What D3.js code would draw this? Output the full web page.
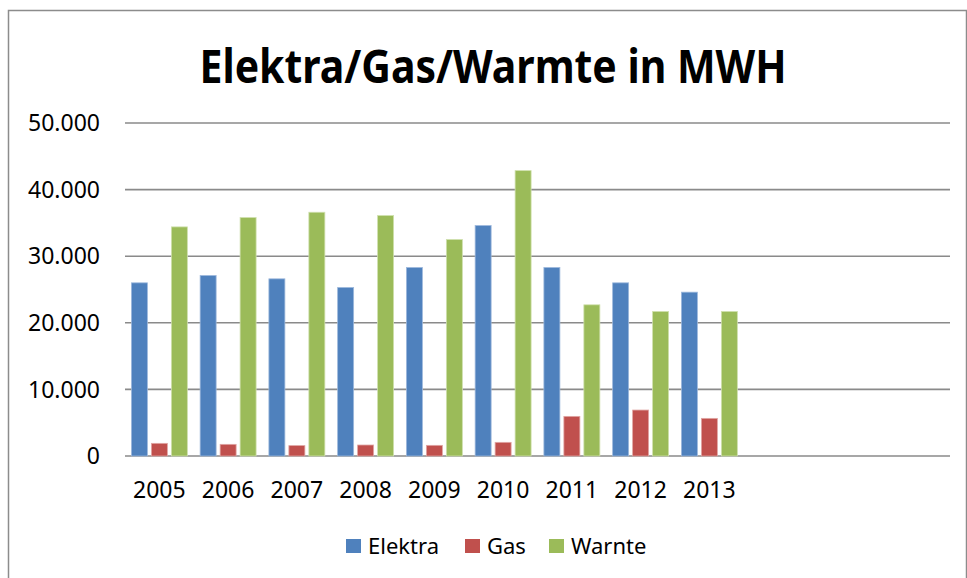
<!DOCTYPE html>
<html lang="de">
  <head>
    <meta charset="UTF-8" />
    <script src="https://d3js.org/d3.v7.min.js"></script>
    <title>Elektra/Gas/Warmte in MWH</title>
    <style>
      body { margin: 0; background: #fff; }
      text { font-family: "Noto Sans", "Open Sans", sans-serif; fill: #000; }
    </style>
  </head>
  <body>
    <div id="chart"></div>
    <script>
    // data
    var years = ["2005", "2006", "2007", "2008", "2009", "2010", "2011", "2012", "2013"];
    var slots = years.concat(["", "", ""]);   // Excel left three empty categories on the right
    var seriesNames = ["Elektra", "Gas", "Warnte"];
    var elektra = [26000, 27100, 26600, 25300, 28300, 34600, 28300, 26000, 24600];
    var gas     = [1900, 1750, 1560, 1650, 1600, 2050, 5950, 6900, 5650];
    var warmte  = [34400, 35800, 36600, 36100, 32500, 42850, 22700, 21700, 21700];
    var yTicks  = [0, 10000, 20000, 30000, 40000, 50000];
    var colors  = ["#4f81bd", "#c0504d", "#9bbb59"];
    var edges   = ["#9db8dc", "#e0a6a4", "#cfe0ad"];

    var W = 967, H = 578;
    var margin = {top: 123, right: 17, bottom: 122, left: 125};
    var width = W - margin.left - margin.right,
        height = H - margin.top - margin.bottom;

    var svg = d3.select("#chart").append("svg")
        .attr("width", W)
        .attr("height", H);

    // chart frame
    svg.append("rect")
        .attr("x", 8.5).attr("y", 10.5)
        .attr("width", 958).attr("height", 600)
        .attr("fill", "none")
        .attr("stroke", "#8c8c8c")
        .attr("stroke-width", 1.5);

    // title
    svg.append("text")
        .attr("x", 493)
        .attr("y", 83)
        .attr("text-anchor", "middle")
        .style("font-size", "46px")
        .style("font-weight", "bold")
        .attr("textLength", 587)
        .attr("lengthAdjust", "spacingAndGlyphs")
        .text("Elektra/Gas/Warmte in MWH");

    var g = svg.append("g")
        .attr("transform", "translate(" + margin.left + "," + margin.top + ")");

    var x0 = d3.scaleBand().domain(d3.range(slots.length)).range([0, width]).padding(0);
    var inner = x0.bandwidth() * 0.093;
    var x1 = d3.scaleBand().domain(d3.range(seriesNames.length))
        .range([inner, x0.bandwidth() - inner]).paddingInner(0.2);
    var y = d3.scaleLinear().domain([0, 50000]).range([height, 0]);

    var fmt = function(v) { return v === 0 ? "0" : d3.format(",")(v).replace(/,/g, "."); };

    // gridlines
    g.selectAll(".grid")
        .data(yTicks)
        .enter().append("line")
        .attr("x1", 0).attr("x2", width)
        .attr("y1", function(d) { return y(d); })
        .attr("y2", function(d) { return y(d); })
        .attr("stroke", "#8a8a8a")
        .attr("stroke-width", 1.6);

    // y labels
    g.selectAll(".ylab")
        .data(yTicks)
        .enter().append("text")
        .attr("x", -25)
        .attr("y", function(d) { return y(d); })
        .attr("dy", "0.36em")
        .attr("text-anchor", "end")
        .style("font-size", "23px")
        .text(fmt);

    // x labels
    g.selectAll(".xlab")
        .data(years)
        .enter().append("text")
        .attr("x", function(d, i) { return x0(i) + x0.bandwidth() / 2; })
        .attr("y", height + 34)
        .attr("dy", "0.36em")
        .attr("text-anchor", "middle")
        .style("font-size", "23px")
        .text(function(d) { return d; });

    // bars
    var values = [elektra, gas, warmte];
    var rows = years.map(function(yr, i) {
      return values.map(function(s, k) { return {i: i, k: k, v: s[i]}; });
    });

    g.selectAll(".year")
        .data(rows)
        .enter().append("g")
        .attr("transform", function(d, i) { return "translate(" + x0(i) + ",0)"; })
      .selectAll("rect")
        .data(function(d) { return d; })
        .enter().append("rect")
        .attr("x", function(d) { return x1(d.k); })
        .attr("y", function(d) { return y(d.v); })
        .attr("width", x1.bandwidth())
        .attr("height", function(d) { return height - y(d.v); })
        .attr("fill", function(d) { return colors[d.k]; })
        .attr("stroke", function(d) { return edges[d.k]; })
        .attr("stroke-width", 0.8);

    // legend
    var legendX = [346, 465, 549];
    var legend = svg.selectAll(".legend")
        .data(seriesNames)
        .enter().append("g")
        .attr("transform", function(d, i) { return "translate(" + legendX[i] + ",539)"; });
    legend.append("rect")
        .attr("width", 15).attr("height", 14)
        .attr("fill", function(d, i) { return colors[i]; });
    legend.append("text")
        .attr("x", 22)
        .attr("y", 7)
        .attr("dy", "0.36em")
        .style("font-size", "22px")
        .text(function(d) { return d; });
    </script>
  </body>
</html>
